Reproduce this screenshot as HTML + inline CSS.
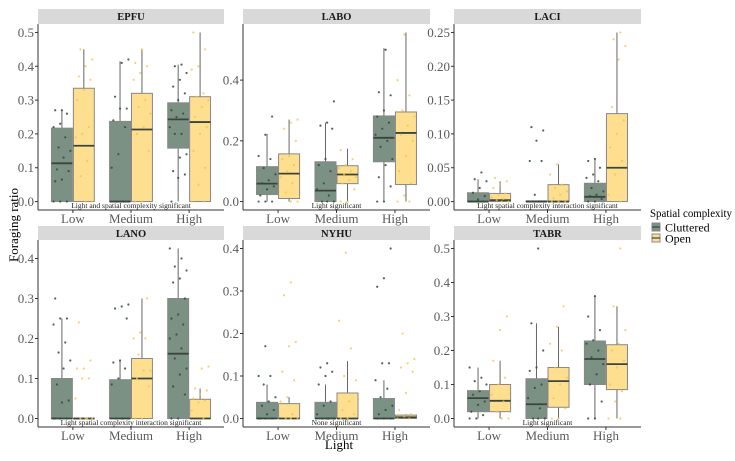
<!DOCTYPE html>
<html><head><meta charset="utf-8"><style>
body{margin:0;background:#fff}
svg text{font-family:"Liberation Serif",serif}
</style></head><body>
<svg id="chart" width="735" height="456" viewBox="0 0 735 456" xmlns="http://www.w3.org/2000/svg"></svg>
<script>
const categories = ["Low","Medium","High"];
const groups = ["Cluttered","Open"];
const panelNames = ["EPFU","LABO","LACI","LANO","NYHU","TABR"];
const annotations = ["Light and spatial complexity significant","Light significant","Light spatial complexity interaction significant","Light spatial complexity interaction significant","None significant","Light significant"];
const yTicks = [[0,0.1,0.2,0.3,0.4,0.5],[0,0.2,0.4],[0,0.05,0.10,0.15,0.20,0.25],[0,0.1,0.2,0.3,0.4],[0,0.1,0.2,0.3,0.4],[0,0.1,0.2,0.3,0.4,0.5]];
const yTickLabels = [["0.0","0.1","0.2","0.3","0.4","0.5"],["0.0","0.2","0.4"],["0.00","0.05","0.10","0.15","0.20","0.25"],["0.0","0.1","0.2","0.3","0.4"],["0.0","0.1","0.2","0.3","0.4"],["0.0","0.1","0.2","0.3","0.4","0.5"]];
// box stats [lowWhisker, q1, median, q3, highWhisker] per panel, per category, per group
const boxStats = [
 [[[0,0,0.113,0.217,0.27],[0,0,0.165,0.335,0.45]],[[0,0,0,0.237,0.415],[0,0,0.213,0.32,0.45]],[[0,0.158,0.243,0.292,0.405],[0,0,0.235,0.31,0.5]]],
 [[[0,0.023,0.059,0.115,0.223],[0,0.01,0.092,0.157,0.27]],[[0,0,0.036,0.131,0.26],[0,0.059,0.089,0.118,0.174]],[[0,0.131,0.21,0.282,0.505],[0,0.056,0.226,0.295,0.557]]],
 [[[0,0,0,0.013,0.033],[0,0,0.002,0.012,0.03]],[[0,0,0,0.001,0.001],[0,0,0,0.025,0.055]],[[0,0,0.007,0.027,0.063],[0,0,0.05,0.13,0.25]]],
 [[[0,0,0,0.1,0.25],[0,0,0,0.001,0.001]],[[0,0,0,0.097,0.145],[0,0,0.1,0.15,0.3]],[[0,0,0.162,0.3,0.425],[0,0,0,0.048,0.075]]],
 [[[0,0,0,0.038,0.08],[0,0,0,0.035,0.05]],[[0,0,0,0.038,0.08],[0,0,0,0.06,0.135]],[[0,0,0,0.047,0.09],[0,0,0.003,0.008,0.01]]],
 [[[0,0.02,0.06,0.082,0.15],[0,0.02,0.052,0.1,0.17]],[[0,0,0.042,0.117,0.28],[0,0.033,0.11,0.15,0.27]],[[0,0.1,0.175,0.228,0.36],[0,0.085,0.16,0.217,0.33]]]
];
// jittered observations
const points = [
 [[[0,0,0,0.06,0.065,0.09,0.095,0.13,0.15,0.16,0.19,0.22,0.23,0.26,0.27,0.27],[0,0,0.075,0.12,0.19,0.2,0.22,0.3,0.33,0.36,0.37,0.4,0.42,0.45]],
  [[0,0,0,0,0.1,0.14,0.22,0.24,0.275,0.275,0.31,0.41,0.42],[0,0,0.15,0.2,0.22,0.26,0.28,0.3,0.36,0.38,0.4,0.41,0.45]],
  [[0,0.07,0.08,0.09,0.13,0.14,0.2,0.2,0.22,0.25,0.26,0.27,0.3,0.32,0.34,0.36,0.38,0.4,0.405],[0,0,0.05,0.1,0.15,0.2,0.22,0.25,0.28,0.3,0.31,0.32,0.39,0.4,0.45,0.5]]],
 [[[0,0,0,0.02,0.04,0.05,0.06,0.07,0.09,0.11,0.14,0.15,0.22,0.28],[0,0,0.03,0.06,0.08,0.1,0.12,0.14,0.15,0.2,0.24,0.26,0.27]],
  [[0,0,0,0.02,0.04,0.06,0.1,0.12,0.14,0.24,0.25,0.26,0.33],[0,0,0.04,0.06,0.07,0.08,0.09,0.1,0.11,0.12,0.14,0.17]],
  [[0,0,0.05,0.08,0.12,0.14,0.18,0.2,0.22,0.24,0.26,0.28,0.3,0.35,0.36,0.5],[0,0,0.02,0.06,0.1,0.15,0.2,0.22,0.25,0.28,0.3,0.35,0.4,0.55]]],
 [[[0,0,0,0,0.003,0.008,0.013,0.02,0.03,0.033,0.043],[0,0,0.002,0.004,0.006,0.01,0.012,0.02,0.025,0.03,0.035]],
  [[0,0,0,0,0,0.01,0.06,0.06,0.09,0.105,0.11],[0,0,0,0.005,0.01,0.015,0.02,0.025,0.04,0.055]],
  [[0,0,0.004,0.008,0.01,0.015,0.02,0.03,0.035,0.04,0.05,0.06,0.063],[0,0.01,0.04,0.06,0.08,0.1,0.12,0.14,0.21,0.23,0.24,0.25]]],
 [[[0,0,0,0,0.04,0.045,0.085,0.125,0.145,0.165,0.19,0.235,0.25,0.25,0.3],[0,0,0,0,0.05,0.1,0.1,0.125,0.125,0.145,0.24]],
  [[0,0,0,0,0.085,0.1,0.125,0.14,0.145,0.25,0.275,0.28,0.285],[0,0,0.08,0.1,0.12,0.12,0.16,0.2,0.2,0.215,0.3]],
  [[0,0,0.06,0.08,0.11,0.125,0.15,0.175,0.2,0.21,0.235,0.25,0.26,0.3,0.34,0.35,0.37,0.38,0.4,0.425],[0,0.02,0.04,0.045,0.05,0.06,0.07,0.075,0.125,0.13]]],
 [[[0,0,0,0,0.01,0.02,0.03,0.04,0.05,0.08,0.1,0.1,0.17],[0,0,0,0.01,0.04,0.05,0.09,0.11,0.17,0.18,0.29,0.32]],
  [[0,0,0,0,0.01,0.03,0.04,0.08,0.1,0.11,0.12,0.13],[0,0,0.01,0.02,0.04,0.09,0.1,0.165,0.23,0.39]],
  [[0,0,0,0.01,0.02,0.03,0.05,0.07,0.09,0.13,0.13,0.31,0.33,0.4],[0,0,0.005,0.01,0.02,0.06,0.11,0.12,0.13,0.14,0.2]]],
 [[[0,0,0.01,0.02,0.04,0.05,0.07,0.08,0.1,0.11,0.12,0.15],[0,0,0.02,0.05,0.07,0.1,0.12,0.17,0.26,0.3]],
  [[0,0,0,0.03,0.06,0.09,0.1,0.14,0.15,0.2,0.28,0.5],[0,0,0.03,0.06,0.1,0.12,0.15,0.2,0.22,0.27,0.33]],
  [[0,0,0.05,0.1,0.13,0.16,0.18,0.2,0.22,0.23,0.26,0.3,0.36],[0,0,0.05,0.08,0.1,0.15,0.17,0.2,0.22,0.26,0.33,0.5]]]
];

const NS="http://www.w3.org/2000/svg";
const svg=document.getElementById('chart');
function mk(tag,attrs,parent){const e=document.createElementNS(NS,tag);for(const k in attrs)e.setAttribute(k,attrs[k]);(parent||svg).appendChild(e);return e;}
const colX=[[38,224],[243,430],[454,641]];
const rowY=[[9,24,210],[226,240,427]];
const fills=["#7a9183","#fedf8f"];
const dots=["#2f4a3c","#f5c040"];
function jit(i,j){return (((i*37+j*17)%11)/10-0.5);}

for(let p=0;p<6;p++){
  const c=p%3,r=Math.floor(p/3);
  const [x0,x1]=colX[c];const [sy,y0,y1]=rowY[r];
  const g=mk('g',{});
  
  
  let mx=0;points[p].forEach(cat=>cat.forEach(gr=>gr.forEach(v=>{if(v>mx)mx=v;})));
  boxStats[p].forEach(cat=>cat.forEach(s=>{if(s[4]>mx)mx=s[4];}));
  const lo=-mx*0.05,hi=mx*1.05;
  const ys=v=>y1-(v-lo)/(hi-lo)*(y1-y0);
  const bw=(x1-x0)/3.2;
  const xs=i=>x0+bw*(0.6+i);
  const strip=mk('rect',{x:x0,y:sy,width:x1-x0,height:y0-sy,fill:'#d9d9d9'},g);
  
  
  const st=mk('text',{x:(x0+x1)/2,y:sy+11,'text-anchor':'middle','font-size':'10.5','font-weight':'bold',fill:'#1a1a1a'},g);st.textContent=panelNames[p];
  
  
  mk('line',{x1:x0,y1:y0,x2:x0,y2:y1,stroke:'#333','stroke-width':1},g);
  mk('line',{x1:x0,y1:y1,x2:x1,y2:y1,stroke:'#333','stroke-width':1},g);
  yTicks[p].forEach((t,k)=>{
    const yy=ys(t);
    mk('line',{x1:x0-3,y1:yy,x2:x0,y2:yy,stroke:'#333'},g);
    const tx=mk('text',{x:x0-4,y:yy+4.5,'text-anchor':'end','font-size':'13',fill:'#5a5a5a'},g);tx.textContent=yTickLabels[p][k];
    
    
  });
  categories.forEach((cat,i)=>{
    const cx=xs(i);
    mk('line',{x1:cx,y1:y1,x2:cx,y2:y1+3,stroke:'#333'},g);
    const tx=mk('text',{x:cx,y:y1+13,'text-anchor':'middle','font-size':'13',fill:'#5a5a5a'},g);tx.textContent=cat;
    
    
    groups.forEach((gname,j)=>{
      const s=boxStats[p][i][j];
      const w=bw*0.36;
      const bx=cx+(j===0?-w-0.5:0.5);
      const mid=bx+w/2;
      mk('line',{x1:mid,y1:ys(s[0]),x2:mid,y2:ys(s[4]),stroke:'#666','stroke-width':1},g);
      const b=mk('rect',{x:bx,y:ys(s[3]),width:w,height:Math.max(ys(s[1])-ys(s[3]),0.8),fill:fills[j],stroke:'#888','stroke-width':1},g);
      
      
      mk('line',{x1:bx,y1:ys(s[2]),x2:bx+w,y2:ys(s[2]),stroke:'#3a453e','stroke-width':1.8},g);
      points[p][i][j].forEach((v,k)=>{
        const d=mk('circle',{cx:mid+jit(k,i+j)*w*0.8,cy:ys(v),r:1.1,fill:dots[j],opacity:j?0.75:0.85},g);
        
        
      });
    });
  });
  const an=mk('text',{x:(x0+x1)/2,y:y1-2,'text-anchor':'middle','font-size':'7.5',fill:'#222'},g);an.textContent=annotations[p];
  
  
}
const yt=mk('text',{x:18,y:225,'text-anchor':'middle','font-size':'13',fill:'#000',transform:'rotate(-90 18 225)'});yt.textContent='Foraging ratio';


const xt=mk('text',{x:339,y:449,'text-anchor':'middle','font-size':'13',fill:'#000'});xt.textContent='Light';


const lg=mk('g',{});


const lt=mk('text',{x:650,y:217,'font-size':'12',fill:'#000',textLength:'82',lengthAdjust:'spacingAndGlyphs'},lg);lt.textContent='Spatial complexity';
groups.forEach((gname,j)=>{
  const yy=223+j*11;
  const e=mk('g',{},lg);
  
  
  mk('rect',{x:652,y:yy,width:8,height:8,fill:fills[j],stroke:'#888'},e);
  mk('line',{x1:652,y1:yy+4,x2:660,y2:yy+4,stroke:'#3a453e','stroke-width':1.2},e);
  const t=mk('text',{x:665,y:yy+8.5,'font-size':'12',fill:'#000'},e);t.textContent=gname;
});
</script>
</body></html>
